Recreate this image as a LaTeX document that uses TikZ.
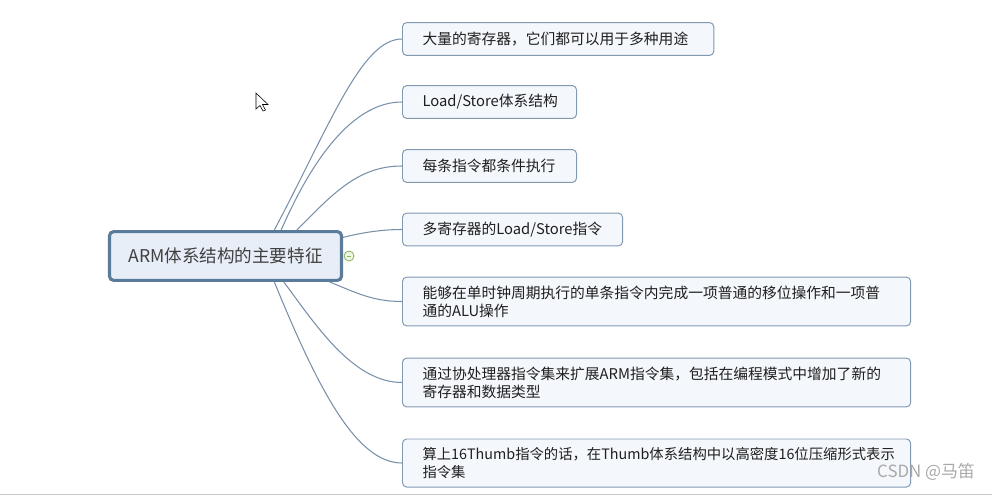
\documentclass[tikz,border=0pt]{standalone}
\usepackage{fontspec}
\setmainfont{Noto Sans CJK SC}
\definecolor{rootline}{HTML}{5B7B9A}
\definecolor{rootfill}{HTML}{E8EEF8}
\definecolor{leafline}{HTML}{8299B2}
\definecolor{leaffill}{HTML}{F4F7FB}
\definecolor{branch}{HTML}{7890AA}
\definecolor{foldgreen}{HTML}{8CB35E}
\definecolor{foldfill}{HTML}{EEF6E4}
\definecolor{mark}{HTML}{A9A9A9}

\begin{document}
\begin{tikzpicture}[x=0.025cm,y=-0.025cm,
  root/.style={draw=rootline,line width=2.2pt,fill=rootfill,rounded corners=3pt,minimum width=5.8cm,minimum height=1.22cm,text=black!75,font=\fontsize{12.5}{15}\selectfont},
  leaf/.style={draw=leafline,line width=0.7pt,fill=leaffill,rounded corners=3pt,anchor=west,inner xsep=0.5cm,inner ysep=0pt,align=left,minimum height=0.82cm,text=black!88,font=\fontsize{10.5}{12.8}\selectfont,text width=#1},
  branch/.style={draw=branch,line width=0.75pt}]
\useasboundingbox (0,0) rectangle (992,496);
% central topic and its sub topics
\node[root] (main) at (225.5,256) {ARM体系结构的主要特征};
\node[leaf=6.78cm] (b1) at (402,39) {大量的寄存器，它们都可以用于多种用途};
\node[leaf=3.35cm] (b2) at (402,102) {Load/Store体系结构};
\node[leaf=3.35cm] (b3) at (402,166) {每条指令都条件执行};
\node[leaf=4.5cm] (b4) at (402,229.5) {多寄存器的Load/Store指令};
\node[leaf=11.7cm,minimum height=1.22cm] (b5) at (402,301.5) {能够在单时钟周期执行的单条指令内完成一项普通的移位操作和一项普\\通的ALU操作};
\node[leaf=11.7cm,minimum height=1.22cm] (b6) at (402,382.5) {通过协处理器指令集来扩展ARM指令集，包括在编程模式中增加了新的\\寄存器和数据类型};
\node[leaf=11.7cm,minimum height=1.2cm,font=\fontsize{10.2}{12.8}\selectfont] (b7) at (402,463) {算上16Thumb指令的话，在Thumb体系结构中以高密度16位压缩形式表示\\指令集};
% branches
\draw[branch] (main.28.7) .. controls +(57,-108) and +(-40,0) .. (b1.west);
\draw[branch] (main.25.5) .. controls +(35,-80) and +(-45,0) .. (b2.west);
\draw[branch] (main.20) .. controls +(35,-35) and +(-45,0) .. (b3.west);
\draw[branch] (main.9.2) .. controls +(20,-5) and +(-20,0) .. (b4.west);
\draw[branch] (main.-14.4) .. controls +(25,10) and +(-30,0) .. (b5.west);
\draw[branch] (main.-24.3) .. controls +(30,40) and +(-50,0) .. (b6.west);
\draw[branch] (main.-28.7) .. controls +(45,110) and +(-45,0) .. (b7.west);
% collapse mark
\node[circle,draw=foldgreen,fill=foldfill,line width=0.6pt,minimum size=0.25cm,inner sep=0pt] (fold) at (349,256) {};
\draw[foldgreen,line width=0.6pt] (346.6,256) -- (351.4,256);
% pointer, watermark, bottom edge
\draw[fill=white,line width=0.4pt] (256,93) -- (256,109) -- (260,105.5) -- (263,111) -- (265.5,110) -- (262.5,104.5) -- (268,104.5) -- cycle;
\node[text=mark,font=\fontsize{12}{14}\selectfont] (wm) at (926,472) {CSDN @马笛};
\draw[black!22,line width=1pt] (0,494.5) -- (992,494.5);
\end{tikzpicture}
\end{document}
